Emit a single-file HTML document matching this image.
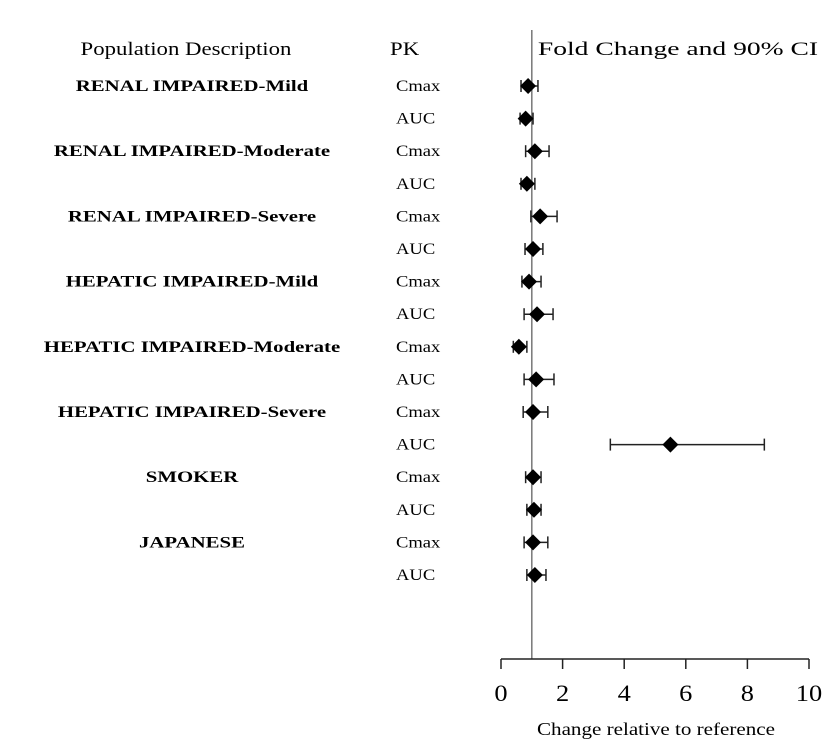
<!DOCTYPE html>
<html><head><meta charset="utf-8"><style>
html,body{margin:0;padding:0;background:#fff;}
svg{display:block;font-family:"Liberation Serif",serif;}
</style></head><body>
<svg id="chart" width="837" height="753" xmlns="http://www.w3.org/2000/svg">
<text id="h1" x="186" y="55" font-size="19" text-anchor="middle">Population Description</text>
<text id="h2" x="390" y="55" font-size="19">PK</text>
<text id="h3" x="678" y="55" font-size="19" text-anchor="middle">Fold Change and 90% CI</text>
<g id="labels"></g>
<g id="plot"></g>
<text id="xt" x="656" y="735" font-size="18" text-anchor="middle">Change relative to reference</text>
</svg>
<script>
const groups=["RENAL IMPAIRED-Mild","RENAL IMPAIRED-Moderate","RENAL IMPAIRED-Severe","HEPATIC IMPAIRED-Mild","HEPATIC IMPAIRED-Moderate","HEPATIC IMPAIRED-Severe","SMOKER","JAPANESE"];
const pkParams=["Cmax","AUC","Cmax","AUC","Cmax","AUC","Cmax","AUC","Cmax","AUC","Cmax","AUC","Cmax","AUC","Cmax","AUC"];
const estimates=[0.88,0.8,1.1,0.84,1.27,1.04,0.91,1.17,0.58,1.14,1.04,5.5,1.04,1.07,1.04,1.1];
const lowerCI=[0.65,0.62,0.8,0.65,0.97,0.78,0.68,0.75,0.4,0.75,0.72,3.55,0.8,0.84,0.75,0.84];
const upperCI=[1.2,1.04,1.56,1.1,1.82,1.36,1.3,1.69,0.84,1.72,1.52,8.55,1.3,1.3,1.52,1.46];
const xTicks=[0,2,4,6,8,10];
const refValue=1;
const NS="http://www.w3.org/2000/svg";
const x=v=>501+v*30.8;
const y=i=>86+i*32.6;
const axisY=659;
const plot=document.getElementById('plot'),labels=document.getElementById('labels');
function mk(tag,attrs,parent){const e=document.createElementNS(NS,tag);for(const k in attrs)e.setAttribute(k,attrs[k]);parent.appendChild(e);return e;}
function stretch(el,f){const L=el.getComputedTextLength();el.setAttribute('textLength',(L*f).toFixed(1));el.setAttribute('lengthAdjust','spacingAndGlyphs');}
stretch(document.getElementById('h1'),1.2);
stretch(document.getElementById('h2'),1.2);
stretch(document.getElementById('h3'),1.45);
stretch(document.getElementById('xt'),1.17);
groups.forEach((g,i)=>{const t=mk('text',{x:192,y:y(i*2)+5,'font-size':16,'font-weight':'bold','text-anchor':'middle'},labels);t.textContent=g;


stretch(t,1.3);});
pkParams.forEach((p,i)=>{const t=mk('text',{x:396,y:y(i)+5,'font-size':16},labels);t.textContent=p;


stretch(t,1.16);});
const ref=mk('line',{x1:x(refValue),x2:x(refValue),y1:30,y2:axisY,stroke:'#777','stroke-width':1.5},plot);


estimates.forEach((e,i)=>{const cy=y(i);
const g=mk('g',{},plot);


mk('line',{x1:x(lowerCI[i]),x2:x(upperCI[i]),y1:cy,y2:cy,stroke:'#222','stroke-width':1.5},g);
[lowerCI[i],upperCI[i]].forEach(v=>mk('line',{x1:x(v),x2:x(v),y1:cy-6,y2:cy+6,stroke:'#222','stroke-width':1.5},g));
const cx=x(e);
const d=mk('polygon',{points:`${cx-8},${cy} ${cx},${cy-8} ${cx+8},${cy} ${cx},${cy+8}`,fill:'#000'},g);

});
const ax=mk('line',{x1:x(0),x2:x(10),y1:axisY,y2:axisY,stroke:'#222','stroke-width':1.5},plot);


xTicks.forEach(v=>{mk('line',{x1:x(v),x2:x(v),y1:axisY,y2:axisY+10,stroke:'#222','stroke-width':1.5},plot);
const t=mk('text',{x:x(v),y:axisY+42,'font-size':23,'text-anchor':'middle'},plot);t.textContent=v;


stretch(t,1.15);});
</script>
</body></html>
